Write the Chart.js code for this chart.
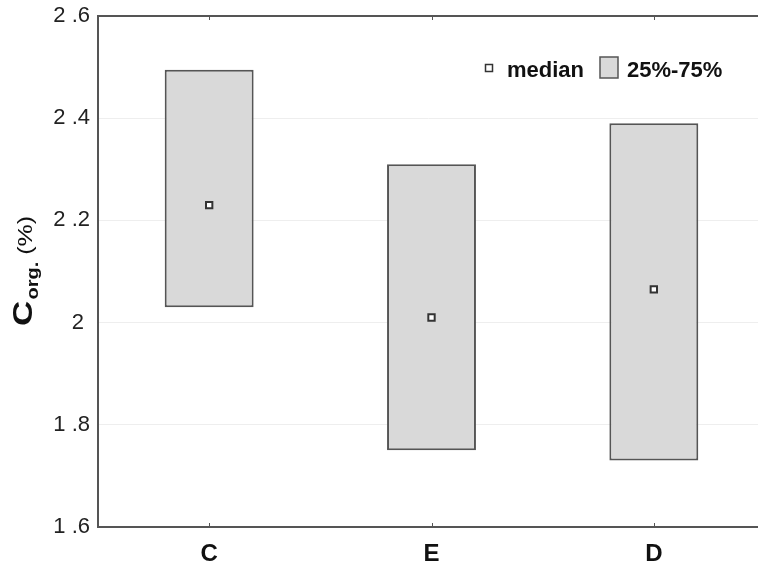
<!DOCTYPE html>
<html>
<head>
<meta charset="utf-8">
<script src="https://cdn.jsdelivr.net/npm/chart.js@4.4.1/dist/chart.umd.min.js"></script>
<style>
  body { margin: 0; background: #fff; }
  #wrap { width: 758px; height: 565px; }
</style>
</head>
<body>
<div id="wrap"><canvas id="boxChart"></canvas></div>
<script>
const categories = ["C", "E", "D"];
const q25 = [2.03, 1.75, 1.73];
const q75 = [2.495, 2.31, 2.39];
const medians = [2.23, 2.01, 2.065];
const yTicks = [1.6, 1.8, 2.0, 2.2, 2.4, 2.6];
const legendLabels = ["median", "25%-75%"];

const FONT = "'Liberation Sans', Arial, sans-serif";

function tickText(v) {
  // Statistica style labels: "2 .6", whole numbers keep a trailing gap
  const s = String(Math.round(v * 10) / 10);
  return s.indexOf(".") >= 0 ? s.replace(".", " .") : s + " ";
}

// the plot frame runs a few pixels past the right edge of the picture
const widenPlugin = {
  id: "widen",
  afterLayout(chart) {
    const xs = chart.scales.x;
    xs.right += 7;
    xs.width += 7;
    xs.configure();
  }
};

const framePlugin = {
  id: "frame",
  afterDraw(chart) {
    const ctx = chart.ctx;
    const a = chart.chartArea;
    ctx.save();
    // top border line
    ctx.strokeStyle = "#555";
    ctx.lineWidth = 2;
    ctx.beginPath();
    ctx.moveTo(a.left - 1, a.top);
    ctx.lineTo(chart.width, a.top);
    ctx.stroke();
    // small ticks at top and bottom
    const xs = chart.scales.x;
    ctx.lineWidth = 1;
    categories.forEach((c, i) => {
      const x = Math.round(xs.getPixelForValue(i)) + 0.5;
      ctx.beginPath();
      ctx.moveTo(x, a.top);
      ctx.lineTo(x, a.top + 4);
      ctx.moveTo(x, a.bottom);
      ctx.lineTo(x, a.bottom - 4);
      ctx.stroke();
    });
    ctx.restore();

    // y axis title: C(org.) (%)
    ctx.save();
    ctx.fillStyle = "#111";
    ctx.translate(32, 326);
    ctx.rotate(-Math.PI / 2);
    ctx.scale(1.25, 1);
    ctx.textBaseline = "alphabetic";
    ctx.font = "bold 28px " + FONT;
    ctx.fillText("C", 0, 0);
    let off = ctx.measureText("C").width;
    ctx.font = "bold 16px " + FONT;
    ctx.fillText("org.", off + 1, 6);
    off += ctx.measureText("org.").width + 1;
    ctx.font = "20px " + FONT;
    ctx.fillText(" (%)", off, 0);
    ctx.restore();

    // legend
    ctx.save();
    ctx.strokeStyle = "#333";
    ctx.lineWidth = 1.5;
    ctx.fillStyle = "#fff";
    ctx.fillRect(485.5, 64.5, 7, 7);
    ctx.strokeRect(485.5, 64.5, 7, 7);
    ctx.fillStyle = "#111";
    ctx.font = "bold 22px " + FONT;
    ctx.textBaseline = "alphabetic";
    ctx.fillText(legendLabels[0], 507, 77);
    ctx.fillStyle = "#d9d9d9";
    ctx.fillRect(600, 57, 18, 21);
    ctx.strokeStyle = "#555";
    ctx.strokeRect(600, 57, 18, 21);
    ctx.fillStyle = "#111";
    ctx.fillText(legendLabels[1], 627, 77);
    ctx.restore();
  }
};

const ctx = document.getElementById("boxChart").getContext("2d");
const boxChart = new Chart(ctx, {
  type: "bar",
  data: {
    labels: categories,
    datasets: [
      {
        type: "line",
        label: "median",
        data: medians,
        showLine: false,
        pointStyle: "rect",
        pointRadius: 4.5,
        pointBackgroundColor: "#fff",
        pointBorderColor: "#333",
        pointBorderWidth: 2,
        order: 0
      },
      {
        label: "25%-75%",
        data: q25.map((v, i) => [v, q75[i]]),
        backgroundColor: "#d9d9d9",
        borderColor: "#555",
        borderWidth: 2,
        borderSkipped: false,
        barPercentage: 0.4,
        categoryPercentage: 1,
        order: 1
      }
    ]
  },
  options: {
    responsive: true,
    maintainAspectRatio: false,
    animation: false,
    layout: {
      autoPadding: false,
      padding: { top: 16, right: 0, left: 0, bottom: 0 }
    },
    plugins: {
      legend: { display: false },
      tooltip: { enabled: false }
    },
    scales: {
      x: {
        offset: true,
        afterFit(scale) {
          scale.height = 38;
          scale.paddingLeft = 0;
          scale.paddingRight = 0;
        },
        grid: { display: false },
        border: { color: "#555", width: 2 },
        ticks: {
          color: "#111",
          padding: 5,
          font: { family: FONT, size: 24, weight: "bold" }
        }
      },
      y: {
        min: 1.6,
        max: 2.6,
        afterFit(scale) {
          scale.width = 98;
          scale.paddingTop = 0;
          scale.paddingBottom = 0;
        },
        afterBuildTicks(scale) { scale.ticks = yTicks.map(v => ({ value: v })); },
        grid: {
          color: (c) => (c.tick && (c.tick.value === 1.6 || c.tick.value === 2.6)) ? "rgba(0,0,0,0)" : "#eeeeee",
          lineWidth: 1,
          drawTicks: false
        },
        border: { color: "#555", width: 2 },
        ticks: {
          color: "#222",
          padding: 8,
          font: { family: FONT, size: 22 },
          callback: (v) => tickText(v)
        }
      }
    }
  },
  plugins: [widenPlugin, framePlugin]
});
</script>
</body>
</html>
